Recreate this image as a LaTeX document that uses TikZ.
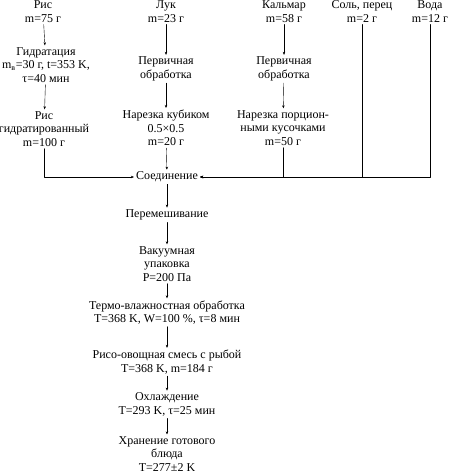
\documentclass[tikz,border=0pt]{standalone}
\usepackage{fontspec}
\setmainfont{Liberation Serif}
\usetikzlibrary{arrows.meta}
\begin{document}
\begin{tikzpicture}[x=1pt,y=-1pt,line cap=round,line join=round,
  step box/.style={align=center,inner sep=2pt,font=\fontsize{12}{13.5}\selectfont},
  conn/.style={->,line width=.4pt,>={Stealth[length=3pt,width=2.5pt]}}]
\useasboundingbox (0,0) rectangle (457,475);
% raw materials
\node[step box] (ris) at (43,11.5) {Рис\\m=75 г};
\node[step box] (luk) at (166,11.5) {Лук\\m=23 г};
\node[step box] (kalmar) at (284,11.5) {Кальмар\\m=58 г};
\node[step box] (sol) at (362,11.5) {Соль, перец\\m=2 г};
\node[step box] (voda) at (430,11.5) {Вода\\m=12 г};
% preparation
\node[step box] (gidr) at (46,65) {Гидратация\\m\textsubscript{в}=30 г, t=353 K,\\τ=40 мин};
\node[step box] (obr1) at (166,69) {Первичная\\обработка};
\node[step box] (obr2) at (284,69) {Первичная\\обработка};
\node[step box] (risg) at (44,129) {Рис\\гидратированный\\m=100 г};
\node[step box] (narez1) at (166,128) {Нарезка кубиком\\0.5×0.5\\m=20 г};
\node[step box] (narez2) at (283,128) {Нарезка порцион-\\ными кусочками\\m=50 г};
% main line
\node[step box] (soed) at (167,177) {Соединение};
\node[step box] (perem) at (167,215) {Перемешивание};
\node[step box] (vakuum) at (167,264) {Вакуумная\\упаковка\\P=200 Па};
\node[step box] (termo) at (167,312.5) {Термо-влажностная обработка\\T=368 K, W=100 \%, τ=8 мин};
\node[step box] (smes) at (167,362) {Рисо-овощная смесь с рыбой\\T=368 K, m=184 г};
\node[step box] (ohl) at (167,404.5) {Охлаждение\\T=293 K, τ=25 мин};
\node[step box] (hran) at (167,454) {Хранение готового\\блюда\\T=277±2 K};
% connectors
\draw[conn] (ris) -- (gidr);
\draw[conn] (gidr) -- (risg);
\draw[conn] (luk) -- (obr1);
\draw[conn] (obr1) -- (narez1);
\draw[conn] (narez1) -- (soed);
\draw[conn] (kalmar) -- (obr2);
\draw[conn] (obr2) -- (narez2);
\draw[conn] (risg.south) |- (soed.west);
\draw[conn] (narez2.south) |- (soed.east);
\draw[conn] (sol.south) |- (soed.east);
\draw[conn] (voda.south) |- (soed.east);
\draw[conn] (soed) -- (perem);
\draw[conn] (perem) -- (vakuum);
\draw[conn] (vakuum) -- (termo);
\draw[conn] (termo) -- (smes);
\draw[conn] (smes) -- (ohl);
\draw[conn] (ohl) -- (hran);
\end{tikzpicture}
\end{document}
